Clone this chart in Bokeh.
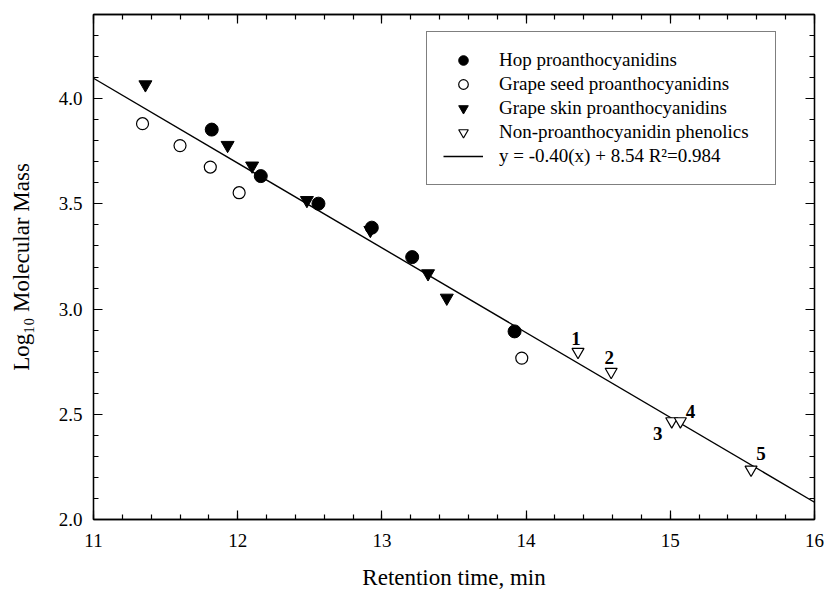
from bokeh.plotting import figure
from bokeh.models import (Legend, LegendItem, LinearAxis, SingleIntervalTicker,
                          Range1d, NumeralTickFormatter)
from bokeh.embed import file_html
from bokeh.resources import INLINE
from bokeh.core.properties import value

# ---- data ----
hop_x = [11.82, 12.16, 12.56, 12.93, 13.21, 13.92]
hop_y = [3.853, 3.632, 3.501, 3.387, 3.247, 2.894]

seed_x = [11.34, 11.60, 11.81, 12.01, 13.97]
seed_y = [3.881, 3.777, 3.675, 3.553, 2.767]

skin_x = [11.36, 11.93, 12.10, 12.48, 12.92, 13.32, 13.45]
skin_y = [4.067, 3.779, 3.681, 3.517, 3.375, 3.169, 3.053]

nonpa_x = [14.36, 14.59, 15.01, 15.07, 15.56]
nonpa_y = [2.797, 2.702, 2.467, 2.467, 2.237]
nonpa_labels = ["1", "2", "3", "4", "5"]

fit_slope = -0.403
fit_intercept = 8.53
fit_x = [11.0, 16.0]

x_ticks_interval = 1
y_ticks_interval = 0.5

# ---- styling ----
FONT = "Liberation Serif"
label_dx = [-2, -2, -14, 10, 10]
label_dy = [-13, -14, 12, -10, -16]

p = figure(width=824, height=594, x_range=Range1d(11, 16), y_range=Range1d(2.0, 4.4),
           output_backend="svg", toolbar_location=None,
           min_border_left=93, min_border_right=10, min_border_top=14, min_border_bottom=75,
           x_axis_label="Retention time, min", y_axis_label="Log\u2081\u2080 Molecular Mass")
bottom_ax = p.below[0]
left_ax = p.left[0]

p.grid.visible = False
p.outline_line_color = "black"
p.outline_line_width = 1.3
p.background_fill_color = "white"
p.border_fill_color = "white"

xt = SingleIntervalTicker(interval=x_ticks_interval, num_minor_ticks=5)
yt = SingleIntervalTicker(interval=y_ticks_interval, num_minor_ticks=5)
bottom_ax.ticker = xt
left_ax.ticker = yt
bottom_ax.formatter = NumeralTickFormatter(format="0")
left_ax.formatter = NumeralTickFormatter(format="0.0")

top_ax = LinearAxis(ticker=xt)
right_ax = LinearAxis(ticker=yt)
p.add_layout(top_ax, "above")
p.add_layout(right_ax, "right")
for ax in (top_ax, right_ax):
    ax.major_label_text_font_size = "1px"
    ax.major_label_text_color = None
    ax.major_label_standoff = 0

for ax in (bottom_ax, left_ax, top_ax, right_ax):
    ax.major_tick_in = 9
    ax.major_tick_out = 0
    ax.minor_tick_in = 5
    ax.minor_tick_out = 0
    ax.axis_line_color = "black"
    ax.axis_line_width = 1.3
    ax.major_tick_line_color = "black"
    ax.minor_tick_line_color = "black"
    ax.major_tick_line_width = 1.2
    ax.minor_tick_line_width = 1.2

for ax in (bottom_ax, left_ax):
    ax.major_label_text_font = FONT
    ax.major_label_text_font_size = "19px"
    ax.major_label_text_color = "black"
    ax.axis_label_text_font = FONT
    ax.axis_label_text_font_size = "23px"
    ax.axis_label_text_font_style = "normal"
    ax.axis_label_text_color = "black"

bottom_ax.major_label_standoff = 14
bottom_ax.axis_label_standoff = 15
left_ax.major_label_standoff = 11
left_ax.axis_label_standoff = 22

# ---- glyphs ----
fit_y = [fit_slope * x + fit_intercept for x in fit_x]
r_fit = p.line(fit_x, fit_y, line_color="black", line_width=1.4)

r_hop = p.scatter(hop_x, hop_y, marker="circle", size=13,
                  fill_color="black", line_color="black")
r_seed = p.scatter(seed_x, seed_y, marker="circle", size=12,
                   fill_color="white", line_color="black", line_width=1.2)
r_skin = p.scatter(skin_x, skin_y, marker="inverted_triangle", size=13,
                   fill_color="black", line_color="black")
r_nonpa = p.scatter(nonpa_x, nonpa_y, marker="inverted_triangle", size=12,
                    fill_color="white", line_color="black", line_width=1.2)

p.text(x=nonpa_x, y=nonpa_y, text=nonpa_labels, x_offset=label_dx, y_offset=label_dy,
       text_font=value(FONT), text_font_style="bold", text_font_size="19px",
       text_align="center", text_baseline="middle", text_color="black")

legend = Legend(items=[
    LegendItem(label="Hop proanthocyanidins", renderers=[r_hop]),
    LegendItem(label="Grape seed proanthocyanidins", renderers=[r_seed]),
    LegendItem(label="Grape skin proanthocyanidins", renderers=[r_skin]),
    LegendItem(label="Non-proanthocyanidin phenolics", renderers=[r_nonpa]),
    LegendItem(label="y = -0.40(x) + 8.54 R\u00b2=0.984", renderers=[r_fit]),
], location=(333, 334))
legend.glyph_width = 40
legend.glyph_height = 24
legend.label_height = 20
legend.spacing = 0
legend.padding = 16
legend.margin = 0
legend.label_standoff = 16
legend.label_width = 260
legend.label_text_font = FONT
legend.label_text_font_size = "19px"
legend.label_text_color = "black"
legend.border_line_color = "black"
legend.border_line_width = 1.2
legend.background_fill_color = "white"
legend.background_fill_alpha = 1.0
p.add_layout(legend)

open("out.html", "w").write(file_html(p, INLINE))
